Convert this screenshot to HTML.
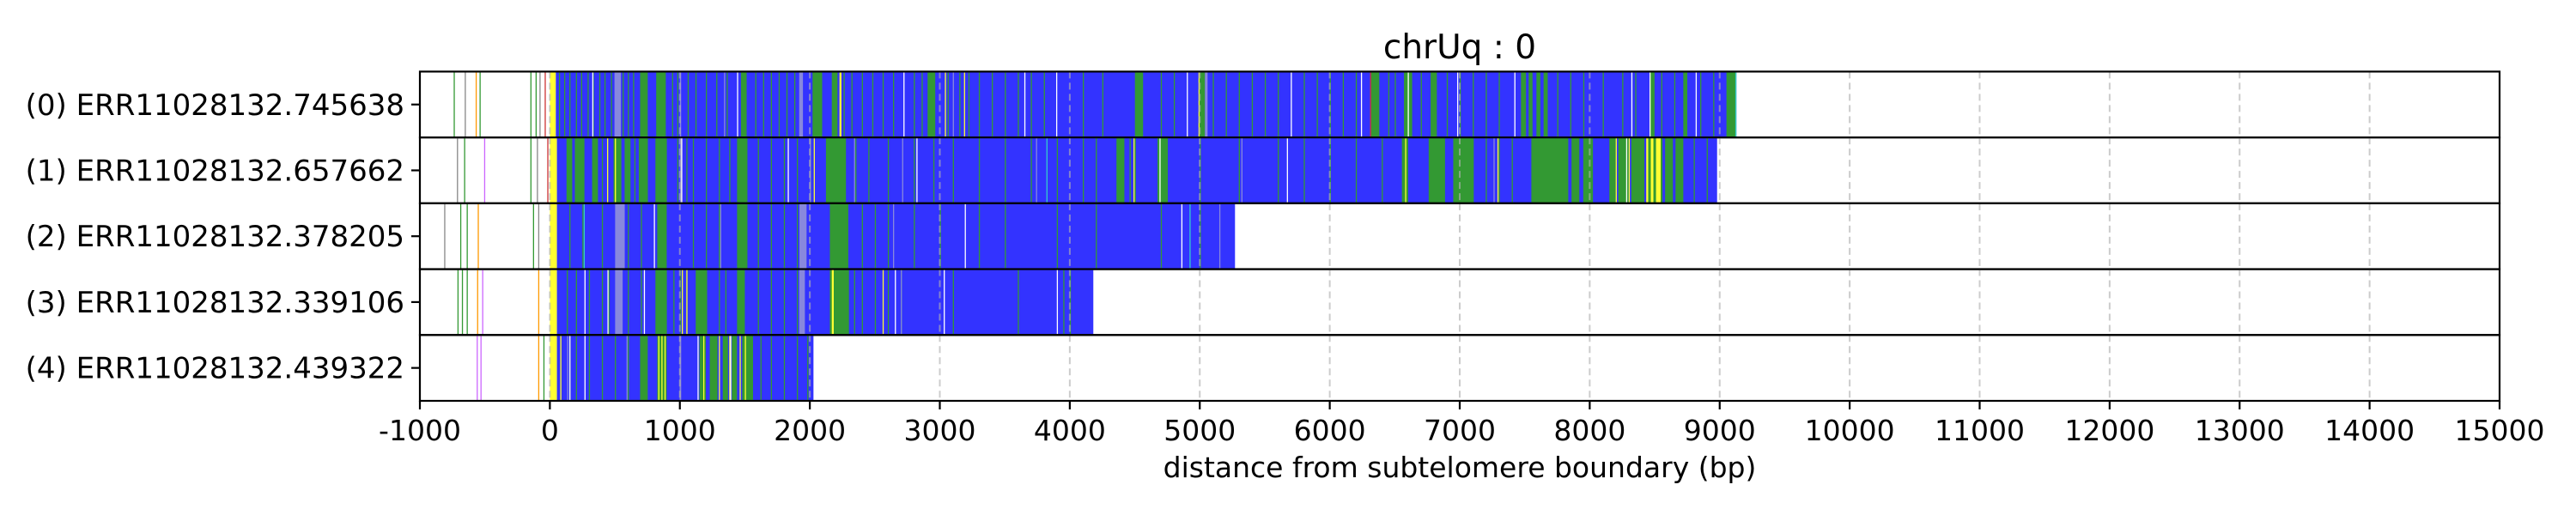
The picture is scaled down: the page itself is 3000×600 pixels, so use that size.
<!DOCTYPE html>
<html><head><meta charset="utf-8"><title>chrUq : 0</title>
<style>html,body{margin:0;padding:0;background:#fff}svg{display:block}text{font-family:"DejaVu Sans","Liberation Sans",sans-serif;fill:#000}</style>
</head><body>
<svg id="chart" width="3000" height="600" viewBox="0 0 3000 600" xmlns="http://www.w3.org/2000/svg">
<text x="1700" y="68" font-size="39" text-anchor="middle">chrUq : 0</text>
<text x="1700" y="556" font-size="33" text-anchor="middle">distance from subtelomere boundary (bp)</text>
<g id="plot"></g>
</svg>
<script>
const rowLabels = ["(0) ERR11028132.745638","(1) ERR11028132.657662","(2) ERR11028132.378205","(3) ERR11028132.339106","(4) ERR11028132.439322"];
const rowStarts = [45, 54, 54, 54, 54];
const rowEnds = [9128, 8980, 5271, 4181, 2028];
const xTicks = [-1000,0,1000,2000,3000,4000,5000,6000,7000,8000,9000,10000,11000,12000,13000,14000,15000];
const xTickLabels = ["-1000","0","1000","2000","3000","4000","5000","6000","7000","8000","9000","10000","11000","12000","13000","14000","15000"];
const palette = {G:"#339933",Y:"#ffff33",L:"#8888dd",W:"#ffffff",C:"#33cccc",O:"#ff9900",R:"#cc3333",P:"#cc66ff",K:"#888888"};
// stripes: [start, end, colour]; two-element entries are thin lines
const stripes0 = [[0,45,"Y"],[70,"G"],[110,"G"],[150,"G"],[200,"G"],[240,"G"],[290,"G"],[330,"G"],[380,"G"],[420,"G"],[470,"G"],[560,"G"],[600,"G"],[640,"G"],[694,753,"G"],[818,892,"G"],[940,"G"],[980,"G"],[1060,"G"],[1120,"G"],[1200,"G"],[1280,"G"],[1360,"G"],[1470,1514,"G"],[1580,"G"],[1640,"G"],[1700,"G"],[1760,"G"],[1820,"G"],[1880,"G"],[2021,2095,"G"],[2169,2213,"G"],[2260,"G"],[2320,"G"],[2400,"G"],[2480,"G"],[2560,"G"],[2640,"G"],[2800,"G"],[2860,"G"],[2906,2965,"G"],[3060,"G"],[3150,"G"],[3220,"G"],[3300,"G"],[3400,"G"],[3500,"G"],[3600,"G"],[3700,"G"],[3800,"G"],[4100,"G"],[4250,"G"],[4501,4564,"G"],[4700,"G"],[4800,"G"],[4995,5040,"G"],[5100,"G"],[5200,"G"],[5300,"G"],[5400,"G"],[5500,"G"],[5600,"G"],[5800,"G"],[5900,"G"],[6000,"G"],[6100,"G"],[6200,"G"],[6318,6381,"G"],[6450,"G"],[6500,"G"],[6571,6634,"G"],[6700,"G"],[6776,6824,"G"],[6900,"G"],[7000,"G"],[7100,"G"],[7200,"G"],[7300,"G"],[7471,7510,"G"],[7530,7560,"G"],[7590,7620,"G"],[7645,7677,"G"],[7750,"G"],[7850,"G"],[7950,"G"],[8100,"G"],[8250,"G"],[8350,"G"],[8467,8499,"G"],[8550,"G"],[8650,"G"],[8720,8751,"G"],[8850,"G"],[8950,"G"],[9052,9128,"G"],[497,547,"L"],[1000,1010,"L"],[1340,"L"],[1918,1947,"L"],[3100,"L"],[5040,5060,"L"],[326,"W"],[1440,"W"],[2720,"W"],[3650,"W"],[3895,"W"],[4900,"W"],[5700,"W"],[6240,"W"],[6600,"W"],[6980,"W"],[7420,"W"],[8320,"W"],[8460,"W"],[8815,"W"],[2228,2243,"Y"],[3039,"Y"],[3186,"Y"],[4990,"Y"],[6310,"R"],[9120,9128,"C"],[-740,"G"],[-655,"K"],[-571,"O"],[-541,"G"],[-150,"G"],[-110,"G"],[-80,"K"],[-40,"R"]];
const stripes1 = [[0,54,"Y"],[128,172,"G"],[192,266,"G"],[325,370,"G"],[490,550,"G"],[575,620,"G"],[684,754,"G"],[812,900,"G"],[1440,1520,"G"],[2124,2278,"G"],[400,"G"],[440,"G"],[600,"G"],[650,"G"],[980,"G"],[1050,"G"],[1100,"G"],[1200,"G"],[1300,"G"],[1380,"G"],[1600,"G"],[1700,"G"],[1800,"G"],[1900,"G"],[2000,"G"],[2350,"G"],[2450,"G"],[2600,"G"],[2800,"G"],[2950,"G"],[3100,"G"],[3300,"G"],[3500,"G"],[3700,"G"],[3900,"G"],[4100,"G"],[4200,"G"],[4359,4420,"G"],[4460,"G"],[4500,"G"],[4675,4754,"G"],[5000,"G"],[5300,"G"],[5600,"G"],[5800,"G"],[6000,"G"],[6200,"G"],[6400,"G"],[6555,6603,"G"],[6761,6887,"G"],[6950,7108,"G"],[7200,"G"],[7300,"G"],[7400,"G"],[7551,7835,"G"],[7860,7920,"G"],[7950,8025,"G"],[8151,8200,"G"],[8220,8300,"G"],[8320,8420,"G"],[8440,8560,"G"],[8580,8640,"G"],[8660,8720,"G"],[8800,"G"],[8900,"G"],[440,"Y"],[500,"Y"],[1010,"Y"],[2030,"Y"],[4490,"Y"],[6580,"Y"],[7290,"Y"],[8200,"Y"],[8300,"Y"],[8435,8450,"Y"],[8470,8490,"Y"],[8510,8546,"Y"],[1000,"L"],[2000,"L"],[2340,"L"],[2710,"L"],[3740,"L"],[5320,"L"],[7260,"L"],[1010,"W"],[1830,"W"],[2820,"W"],[4690,"W"],[5670,"W"],[8280,"W"],[3820,"C"],[-715,"K"],[-660,"G"],[-506,"P"],[-150,"G"],[-100,"K"],[-20,"R"]];
const stripes2 = [[0,54,"Y"],[826,899,"G"],[1440,1520,"G"],[2154,2296,"G"],[150,"G"],[250,"G"],[400,"G"],[600,"G"],[700,"G"],[1100,"G"],[1200,"G"],[1300,"G"],[1600,"G"],[1700,"G"],[1800,"G"],[1900,"G"],[2400,"G"],[2500,"G"],[2600,"G"],[2800,"G"],[3000,"G"],[3300,"G"],[3500,"G"],[3900,"G"],[4200,"G"],[4700,"G"],[5000,"G"],[502,576,"L"],[1920,1975,"L"],[2640,"L"],[1310,"L"],[5150,"L"],[800,"W"],[3192,"W"],[4858,"W"],[4921,"C"],[260,"C"],[-813,"K"],[-690,"G"],[-640,"G"],[-555,"O"],[-130,"G"],[-90,"K"]];
const stripes3 = [[0,54,"Y"],[812,900,"G"],[1122,1210,"G"],[1440,1500,"G"],[2154,2301,"G"],[2340,"G"],[130,"G"],[200,"G"],[300,"G"],[400,"G"],[450,"G"],[600,"G"],[700,"G"],[950,"G"],[1000,"G"],[1050,"G"],[1300,"G"],[1350,"G"],[1600,"G"],[1700,"G"],[1800,"G"],[1900,"G"],[2400,"G"],[2500,"G"],[2600,"G"],[2700,"G"],[3100,"G"],[3600,"G"],[3950,"G"],[4000,"G"],[502,560,"L"],[1918,1962,"L"],[2700,"L"],[266,"W"],[443,"W"],[723,"W"],[2654,"W"],[3030,"W"],[3900,"W"],[2169,2184,"Y"],[1015,"Y"],[1050,"Y"],[2560,"Y"],[-711,"G"],[-677,"G"],[-640,"G"],[-560,"O"],[-521,"P"],[-90,"O"]];
const stripes4 = [[0,54,"Y"],[694,753,"G"],[826,899,"G"],[1151,1200,"G"],[1230,1290,"G"],[1330,1370,"G"],[1400,1440,"G"],[1480,1563,"G"],[1620,"G"],[1700,"G"],[1800,"G"],[1900,"G"],[1980,"G"],[150,"G"],[200,"G"],[300,"G"],[400,"G"],[500,"G"],[600,"G"],[834,"Y"],[858,"Y"],[882,"Y"],[1180,"Y"],[1300,"Y"],[1380,"Y"],[1460,"Y"],[1500,"Y"],[80,"Y"],[1000,"Y"],[133,"L"],[590,"L"],[1000,1010,"L"],[150,"W"],[266,"W"],[1136,"W"],[1387,"W"],[-563,"P"],[-534,"P"],[-90,"O"],[-50,"G"]];
const allStripes = [stripes0, stripes1, stripes2, stripes3, stripes4];

const NS = "http://www.w3.org/2000/svg";
const X0 = 489, X1 = 2911, TOP = 83.4, BOT = 467;
const xMin = -1000, xMax = 15000;
function xScale(v){ return X0 + (v - xMin) / (xMax - xMin) * (X1 - X0); }
const rowH = (BOT - TOP) / rowLabels.length;
function rowTop(i){ return TOP + i * rowH; }
const plot = document.getElementById("plot");
function mk(tag, attrs, parent){ const e = document.createElementNS(NS, tag); for (const k in attrs) e.setAttribute(k, attrs[k]); (parent||plot).appendChild(e); return e; }

rowLabels.forEach((lab, i) => {
  const g = mk("g", {});
  
  
  const y = rowTop(i);
  const base = mk("rect", {x: xScale(rowStarts[i]), y: y, width: xScale(rowEnds[i]) - xScale(rowStarts[i]), height: rowH, fill: "#3333ff"}, g);
  
  
  allStripes[i].forEach(s => {
    let a, b, c;
    if (s.length === 2) { a = s[0]; b = s[0] + 8; c = s[1]; } else { a = s[0]; b = s[1]; c = s[2]; }
    const x = xScale(a), w = Math.max(1.3, xScale(b) - x);
    const r = mk("rect", {x: x, y: y, width: w, height: rowH, fill: palette[c]}, g);
    
    
  });
  xTicks.forEach(t => {
    const gl = mk("line", {x1: xScale(t), x2: xScale(t), y1: y, y2: y + rowH, stroke: "#b0b0b0", "stroke-opacity": 0.65, "stroke-width": 2, "stroke-dasharray": "8,5"}, g);
    
    
  });
  const fr = mk("rect", {x: X0, y: y, width: X1 - X0, height: rowH, fill: "none", stroke: "#000", "stroke-width": 2.2}, g);
  
  
  const tk = mk("line", {x1: X0 - 10, x2: X0, y1: y + rowH / 2, y2: y + rowH / 2, stroke: "#000", "stroke-width": 2.2}, g);
  
  
  const tx = mk("text", {x: X0 - 18, y: y + rowH / 2 + 12, "font-size": 34, "text-anchor": "end"}, g);
  tx.textContent = lab;
  
  
});
xTicks.forEach((t, k) => {
  const l = mk("line", {x1: xScale(t), x2: xScale(t), y1: BOT, y2: BOT + 10, stroke: "#000", "stroke-width": 2.2});
  
  
  const tx = mk("text", {x: xScale(t), y: BOT + 46, "font-size": 33, "text-anchor": "middle"});
  tx.textContent = xTickLabels[k];
  
  
});
</script>
</body></html>
